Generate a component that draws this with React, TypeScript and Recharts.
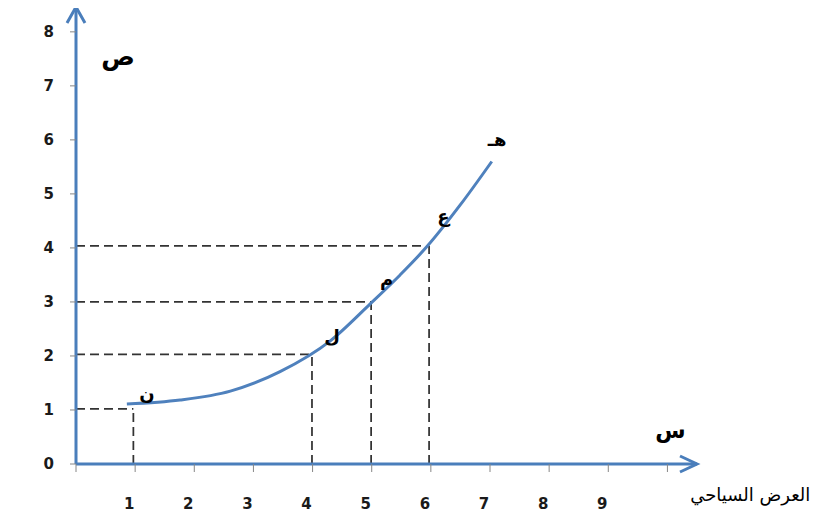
import React from "react";
import { LineChart, Line, XAxis, YAxis, ReferenceLine, ReferenceDot } from "recharts";

// curve (x = position on the horizontal axis)
const curveX = [0.86, 1.76, 2.61, 3.45, 4.3, 4.97, 5.48, 5.93, 6.5, 7.03];
const curveY = [1.11, 1.185, 1.35, 1.71, 2.28, 2.96, 3.5, 4.02, 4.8, 5.6];

// dashed guides: vertical at guideX, horizontal at guideY
const guideX = [0.97, 3.99, 4.99, 5.97];
const guideY = [1.02, 2.03, 3.0, 4.04];

// letters next to the curve
const pointNames = ["ن", "ل", "م", "ع", "هـ"];
const nameX = [1.2, 4.33, 5.25, 6.21, 7.12];
const nameY = [1.31, 2.35, 3.41, 4.57, 6.0];

const xTicks = [0, 1, 2, 3, 4, 5, 6, 7, 8, 9, 10];
const yTicks = [0, 1, 2, 3, 4, 5, 6, 7, 8];

const X_MAX = 10.5;
const Y_MAX = 8.46;

const AXIS_BLUE = "#4A7EBB";
const FONT = "'DejaVu Sans', sans-serif";

const data = curveX.map((x, i) => ({ x, y: curveY[i] }));

function XTick(props: any) {
  const { x, y, payload } = props;
  const v = payload?.value;
  if (v === 0 || v === 10) return null;
  return (
    <text x={x - 6} y={y} dy="0.71em" textAnchor="middle" fontSize={15} fontWeight="bold" fontFamily={FONT} fill="#1a1a1a">
      {v}
    </text>
  );
}

function YTick(props: any) {
  const { x, y, payload } = props;
  return (
    <text x={x} y={y} dy="0.35em" textAnchor="end" fontSize={15} fontWeight="bold" fontFamily={FONT} fill="#1a1a1a">
      {payload?.value}
    </text>
  );
}

const textShape =
  (label: string, size: number, bold = true) =>
  (p: any) =>
    (
      <text
        x={p.cx}
        y={p.cy}
        dy="0.35em"
        textAnchor="middle"
        fontSize={size}
        fontWeight={bold ? "bold" : "normal"}
        fontFamily={FONT}
        fill="#000"
      >
        {label}
      </text>
    );

const arrowRight = (p: any) => (
  <path
    d={`M ${p.cx - 17} ${p.cy - 8} L ${p.cx} ${p.cy} L ${p.cx - 17} ${p.cy + 8}`}
    fill="none"
    stroke={AXIS_BLUE}
    strokeWidth={3}
  />
);

const arrowUp = (p: any) => (
  <path
    d={`M ${p.cx - 9} ${p.cy + 16} L ${p.cx} ${p.cy} L ${p.cx + 9} ${p.cy + 16}`}
    fill="none"
    stroke={AXIS_BLUE}
    strokeWidth={3}
  />
);

// picture frame, anchored at the origin of the axes
const frame = (p: any) => (
  <rect x={p.cx - 69} y={p.cy - 458} width={812} height={524} fill="none" stroke="#a0a0a0" strokeWidth={2} />
);

export default function App() {
  return (
    <div style={{ width: 823, height: 532, margin: -8, background: "#fff" }}>
      <LineChart
        width={823}
        height={532}
        data={data}
        margin={{ top: 7, right: 126, bottom: 0, left: 0 }}
      >
        <ReferenceDot x={0} y={0} r={0} ifOverflow="visible" shape={frame} />

        <XAxis
          type="number"
          dataKey="x"
          domain={[0, X_MAX]}
          ticks={xTicks}
          interval={0}
          allowDataOverflow
          height={68}
          axisLine={{ stroke: AXIS_BLUE, strokeWidth: 3 }}
          tickLine={{ stroke: "#868686", strokeWidth: 1 }}
          tickSize={8}
          tickMargin={26}
          tick={<XTick />}
        />
        <YAxis
          type="number"
          domain={[0, Y_MAX]}
          ticks={yTicks}
          interval={0}
          allowDataOverflow
          width={76}
          axisLine={{ stroke: AXIS_BLUE, strokeWidth: 3 }}
          tickLine={{ stroke: "#868686", strokeWidth: 1 }}
          tickSize={6}
          tickMargin={16}
          tick={<YTick />}
        />

        {guideX.map((gx, i) => (
          <ReferenceLine
            key={`h${i}`}
            segment={[
              { x: 0, y: guideY[i] },
              { x: gx, y: guideY[i] },
            ]}
            stroke="#333"
            strokeWidth={1.75}
            strokeDasharray="9 5"
          />
        ))}
        {guideX.map((gx, i) => (
          <ReferenceLine
            key={`v${i}`}
            segment={[
              { x: gx, y: 0 },
              { x: gx, y: guideY[i] },
            ]}
            stroke="#333"
            strokeWidth={1.75}
            strokeDasharray="9 5"
          />
        ))}

        <Line
          type="monotone"
          dataKey="y"
          stroke="#4F81BD"
          strokeWidth={3}
          dot={false}
          activeDot={false}
          isAnimationActive={false}
        />

        {pointNames.map((n, i) => (
          <ReferenceDot key={n} x={nameX[i]} y={nameY[i]} r={0} ifOverflow="visible" shape={textShape(n, 18)} />
        ))}

        <ReferenceDot x={X_MAX} y={0} r={0} ifOverflow="visible" shape={arrowRight} />
        <ReferenceDot x={0} y={Y_MAX} r={0} ifOverflow="visible" shape={arrowUp} />

        <ReferenceDot x={0.71} y={7.54} r={0} ifOverflow="visible" shape={textShape("ص", 25)} />
        <ReferenceDot x={10.05} y={0.63} r={0} ifOverflow="visible" shape={textShape("س", 22)} />
        <ReferenceDot x={11.4} y={-0.57} r={0} ifOverflow="visible" shape={textShape("العرض السياحي", 18, false)} />
      </LineChart>
    </div>
  );
}
